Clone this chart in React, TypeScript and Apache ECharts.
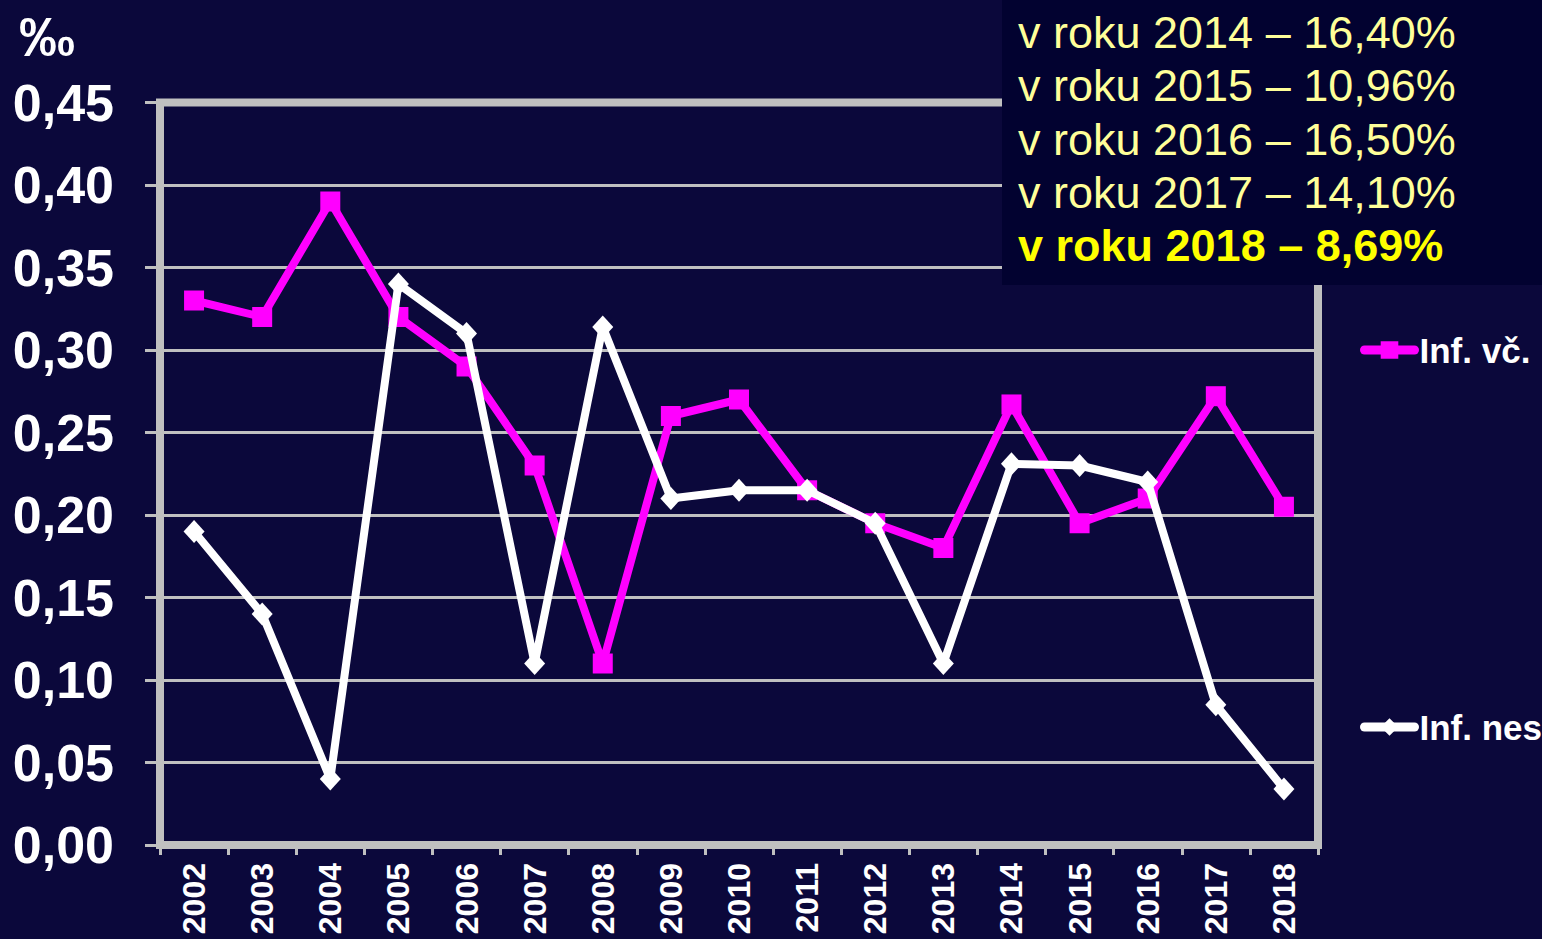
import React, { useEffect, useRef } from "react";
import * as echarts from "echarts";

const years = ["2002", "2003", "2004", "2005", "2006", "2007", "2008", "2009", "2010", "2011", "2012", "2013", "2014", "2015", "2016", "2017", "2018"];
const infVc = [0.33, 0.32, 0.39, 0.32, 0.29, 0.23, 0.11, 0.26, 0.27, 0.215, 0.195, 0.18, 0.267, 0.195, 0.21, 0.272, 0.205];
const infNes = [0.19, 0.14, 0.04, 0.34, 0.31, 0.11, 0.314, 0.21, 0.215, 0.215, 0.195, 0.11, 0.231, 0.23, 0.22, 0.085, 0.034];
const seriesNames = ["Inf. vč.", "Inf. nes"];
const yMin = 0;
const yMax = 0.45;
const yStep = 0.05;
const unitLabel = "‰";
const boxLines = [
  "v roku 2014 – 16,40%",
  "v roku 2015 – 10,96%",
  "v roku 2016 – 16,50%",
  "v roku 2017 – 14,10%",
];
const boxLastLine = "v roku 2018 – 8,69%";

const FONT = "'Liberation Sans', Arial, Helvetica, sans-serif";
const BG = "#0b083b";
const BOX_BG = "#020230";
const GRAY = "#c0c0c0";

export default function App() {
  const ref = useRef<HTMLDivElement>(null);
  useEffect(() => {
    if (!ref.current) return;
    const chart = echarts.init(ref.current, undefined, { renderer: "svg" });
    const boxTexts: any[] = boxLines.map((t, i) => ({
      type: "text",
      left: 1018,
      top: 32.5 + i * 53.3 - 22.5,
      z: 101,
      style: { text: t, fill: "#ffff99", font: `normal 45px ${FONT}` },
    }));
    boxTexts.push({
      type: "text",
      left: 1018,
      top: 32.5 + 4 * 53.3 - 22.5,
      z: 101,
      style: { text: boxLastLine, fill: "#ffff00", font: `bold 45px ${FONT}` },
    });
    const legendCommon = {
      orient: "vertical",
      left: 1360,
      padding: 0,
      itemWidth: 50,
      itemHeight: 22,
      lineStyle: { width: 9, cap: "round" },
      textStyle: { color: "#ffffff", fontSize: 35, fontWeight: "bold", fontFamily: FONT, lineHeight: 36 },
    };
    chart.setOption({
      animation: false,
      backgroundColor: BG,
      grid: {
        left: 160,
        right: 224,
        top: 102.5,
        bottom: 94,
        show: true,
        borderColor: GRAY,
        borderWidth: 8,
        containLabel: false,
      },
      legend: [
        { ...legendCommon, top: 332, data: [seriesNames[0]] },
        { ...legendCommon, top: 709, data: [seriesNames[1]] },
      ],
      xAxis: {
        type: "category",
        data: years,
        boundaryGap: true,
        axisLine: { show: false },
        axisTick: { show: true, length: 10, lineStyle: { color: GRAY, width: 3 } },
        axisLabel: {
          rotate: 90,
          margin: 18,
          color: "#ffffff",
          fontSize: 32,
          fontWeight: "bold",
          fontFamily: FONT,
        },
        splitLine: { show: false },
      },
      yAxis: {
        type: "value",
        min: yMin,
        max: yMax,
        interval: yStep,
        axisLine: { show: false },
        axisTick: { show: true, length: 15, lineStyle: { color: GRAY, width: 3 } },
        axisLabel: {
          margin: 46,
          color: "#ffffff",
          fontSize: 52,
          fontWeight: "bold",
          fontFamily: FONT,
          formatter: (v: number) => v.toFixed(2).replace(".", ","),
        },
        splitLine: { show: true, lineStyle: { color: GRAY, width: 3 } },
      },
      series: [
        {
          name: seriesNames[0],
          type: "line",
          data: infVc,
          symbol: "rect",
          symbolSize: 20,
          itemStyle: { color: "#ff00ff" },
          lineStyle: { color: "#ff00ff", width: 8, cap: "round" },
          z: 3,
        },
        {
          name: seriesNames[1],
          type: "line",
          data: infNes,
          symbol: "diamond",
          symbolSize: [21, 23],
          itemStyle: { color: "#ffffff" },
          lineStyle: { color: "#ffffff", width: 8, cap: "round" },
          z: 4,
        },
      ],
      graphic: [
        {
          type: "text",
          left: 19,
          top: 8,
          z: 50,
          style: { text: unitLabel, fill: "#ffffff", font: `bold 56px ${FONT}` },
        },
        {
          type: "rect",
          shape: { x: 1002, y: 0, width: 540, height: 285 },
          z: 100,
          style: { fill: BOX_BG },
        },
        ...boxTexts,
      ],
    });
    return () => chart.dispose();
  }, []);
  return (
    <div
      ref={ref}
      style={{ position: "fixed", left: 0, top: 0, width: 1542, height: 939 }}
    />
  );
}
